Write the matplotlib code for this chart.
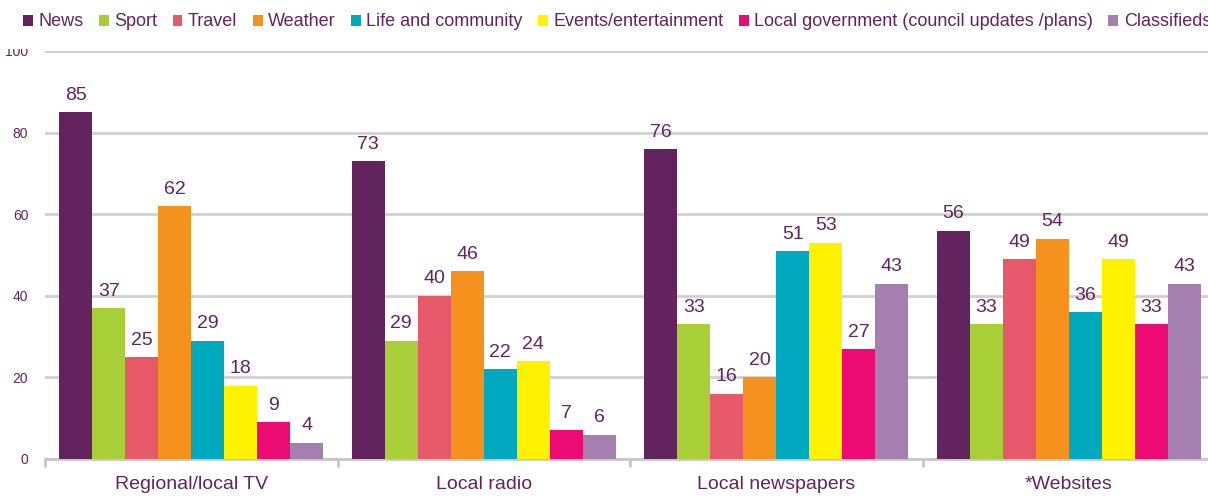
import numpy as np
import matplotlib
matplotlib.use("Agg")
import matplotlib.pyplot as plt
from matplotlib.patches import Rectangle

plt.rcParams['font.family'] = ['Liberation Sans', 'DejaVu Sans']

platforms = ['Regional/local TV', 'Local radio', 'Local newspapers', '*Websites']
series = ['News', 'Sport', 'Travel', 'Weather', 'Life and community',
          'Events/entertainment', 'Local government (council updates /plans)',
          'Classifieds']
news = [85, 73, 76, 56]
sport = [37, 29, 33, 33]
travel = [25, 40, 16, 49]
weather = [62, 46, 20, 54]
life = [29, 22, 51, 36]
events = [18, 24, 53, 49]
local_gov = [9, 7, 27, 33]
classifieds = [4, 6, 43, 43]
values = [news, sport, travel, weather, life, events, local_gov, classifieds]

colors = ['#62235F', '#A8CF38', '#E5596A', '#F5921E', '#00A9BD',
          '#FFF200', '#EC0A73', '#A57FAF']
txt = '#62235F'
grid_c = '#D0D0D0'

fig = plt.figure(figsize=(12.08, 4.96), dpi=100)
ax = fig.add_axes([45/1208, 37/496, 1170/1208, 408/496])

x = np.arange(len(platforms))
w = 0.113
for j, (name, vals) in enumerate(zip(series, values)):
    bars = ax.bar(x + (j - 3.5) * w, vals, w, color=colors[j], label=name,
                  zorder=3)
    ax.bar_label(bars, padding=6, fontsize=14, color=txt)

ax.set_xlim(-0.5, 3.5)
ax.set_ylim(0, 100)
ax.set_yticks([0, 20, 40, 60, 80, 100])
ax.yaxis.grid(True, color=grid_c, linewidth=2, zorder=0)
ax.tick_params(axis='y', length=0, pad=12, labelsize=10, labelcolor=txt)

ax.set_xticks(x)
ax.set_xticklabels(platforms)
ax.set_xticks(np.arange(-0.5, 4.0, 1.0), minor=True)
ax.tick_params(axis='x', which='major', length=0, pad=12, labelsize=14,
               labelcolor=txt)
ax.tick_params(axis='x', which='minor', length=6, width=2, color='#C8C8C8')

for s in ['top', 'right', 'left']:
    ax.spines[s].set_visible(False)
ax.spines['bottom'].set_color('#C8C8C8')
ax.spines['bottom'].set_linewidth(2)

# white band behind the legend, hides the top of the 100 label
fig.patches.append(Rectangle((0, (496 - 49) / 496), 1, 49 / 496,
                             transform=fig.transFigure, facecolor='white',
                             edgecolor='none', zorder=4))

leg = fig.legend(loc='center left', bbox_to_anchor=(23/1208, 1 - 22/496),
                 ncol=8, frameon=False, fontsize=13, handlelength=0.55,
                 handleheight=0.55, handletextpad=0.3, columnspacing=0.85,
                 borderaxespad=0, borderpad=0)
for t in leg.get_texts():
    t.set_color(txt)
leg.set_zorder(5)

fig.savefig('out.png', dpi=100)
